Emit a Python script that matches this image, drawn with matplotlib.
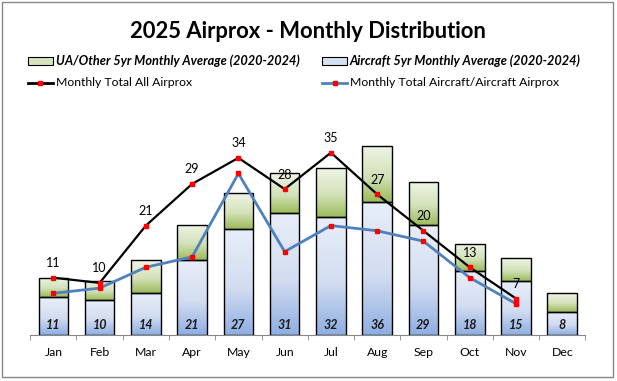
import numpy as np
import matplotlib
matplotlib.use("Agg")
import matplotlib.pyplot as plt
from matplotlib.colors import LinearSegmentedColormap
from matplotlib.patches import Rectangle
from matplotlib.lines import Line2D

# ── data ─────────────────────────────────────────────────────────────────────
MONTHS = ["Jan", "Feb", "Mar", "Apr", "May", "Jun",
          "Jul", "Aug", "Sep", "Oct", "Nov", "Dec"]
AC_AVG = [7.2, 6.7, 8.0, 14.3, 20.3, 23.4, 22.6, 25.5, 21.2, 12.2, 10.3, 4.5]
UA_AVG = [3.7, 3.7, 6.3, 6.8, 6.9, 7.6, 9.4, 10.8, 8.1, 5.3, 4.4, 3.5]
AVG_LABELS = [11, 10, 14, 21, 27, 31, 32, 36, 29, 18, 15, 8]
TOTAL_ALL = [11, 10, 21, 29, 34, 28, 35, 27, 20, 13, 7]
TOTAL_AC = [8, 9, 13, 15, 31, 16, 21, 20, 18, 11, 6]

W, H = 617, 381
FONT = "Lato"

blue_cmap = LinearSegmentedColormap.from_list(
    "blue", [(0.0, "#8eaee2"), (0.45, "#d3ddf1"), (1.0, "#e8eef8")])
green_cmap = LinearSegmentedColormap.from_list(
    "green", [(0.0, "#9bbb59"), (0.45, "#d3e1b8"), (1.0, "#eff4e6")])

plt.rcParams["font.family"] = FONT

fig = plt.figure(figsize=(W / 100, H / 100), dpi=100)


def fx(px):
    return px / W


def fy(py):
    return 1 - py / H


ax = fig.add_axes([fx(30.2), fy(335), (585.4 - 30.2) / W, 208.4 / H])
x = np.arange(len(MONTHS))
bw = 0.64
grad = np.linspace(0, 1, 256).reshape(-1, 1)


def grad_bars(xs, bottoms, heights, cmap):
    bars = ax.bar(xs, heights, bw, bottom=bottoms, facecolor="none",
                  edgecolor="black", linewidth=1.0, zorder=3)
    for b in bars:
        x0, y0 = b.get_x(), b.get_y()
        im = ax.imshow(grad, cmap=cmap, origin="lower", aspect="auto",
                       extent=[x0, x0 + b.get_width(), y0, y0 + b.get_height()],
                       zorder=2)
        im.set_clip_path(b)
    return bars


grad_bars(x, np.zeros(len(x)), AC_AVG, blue_cmap)
grad_bars(x, AC_AVG, UA_AVG, green_cmap)

for xi, lab in zip(x, AVG_LABELS):
    ax.annotate(str(lab), (xi, 0), xytext=(0, 7.5), textcoords="offset points",
                ha="center", va="center", fontsize=9, fontweight="bold",
                fontstyle="italic", color="#1a1a1a", zorder=6)

xl = x[:len(TOTAL_ALL)]
ax.plot(xl, TOTAL_ALL, color="black", linewidth=1.6, zorder=4)
ax.plot(xl, TOTAL_AC, color="#4f81bd", linewidth=2.0, zorder=4)
ax.plot(xl, TOTAL_ALL, "s", color="red", markersize=3.3, zorder=5)
ax.plot(xl, TOTAL_AC, "s", color="red", markersize=3.3, zorder=5)

for xi, v in zip(xl, TOTAL_ALL):
    ax.annotate(str(v), (xi, v), xytext=(0, 10.5), textcoords="offset points",
                ha="center", va="center", fontsize=9, color="black", zorder=6)

ax.set_xlim(-0.5, len(MONTHS) - 0.5)
ax.set_ylim(0, 40)
ax.set_xticks(x)
ax.set_xticklabels(MONTHS, fontsize=8.8)
ax.set_xticks(np.arange(-0.5, len(MONTHS)), minor=True)
ax.tick_params(axis="x", which="major", length=0, pad=9)
ax.tick_params(axis="x", which="minor", length=3.5, color="#868686")
ax.set_yticks([])
for side in ("left", "right", "top"):
    ax.spines[side].set_visible(False)
ax.spines["bottom"].set_color("#868686")
ax.patch.set_alpha(0)

fig.text(fx(308), fy(31), "2025 Airprox - Monthly Distribution",
         ha="center", va="center", fontsize=15.8, fontweight="bold")

# legend
def leg_patch(x0, y0, cmap):
    r = Rectangle((fx(x0), fy(y0 + 3.5)), 25 / W, 7 / H, transform=fig.transFigure,
                  facecolor=cmap(0.55), edgecolor="black", linewidth=0.8)
    fig.add_artist(r)


def leg_line(x0, y0, color):
    fig.add_artist(Line2D([fx(x0), fx(x0 + 25)], [fy(y0), fy(y0)],
                          transform=fig.transFigure, color=color, linewidth=2))
    fig.add_artist(Line2D([fx(x0 + 12.5)], [fy(y0)], transform=fig.transFigure,
                          marker="s", color="red", markersize=3.3))


leg_patch(28, 61, green_cmap)
leg_patch(322, 61, blue_cmap)
leg_line(28, 83, "black")
leg_line(322, 83, "#4f81bd")
fig.text(fx(56.5), fy(61), "UA/Other 5yr Monthly Average (2020-2024)", va="center",
         fontsize=9.2, fontweight="bold", fontstyle="italic")
fig.text(fx(350), fy(61), "Aircraft 5yr Monthly Average (2020-2024)", va="center",
         fontsize=9.2, fontweight="bold", fontstyle="italic")
fig.text(fx(56.5), fy(83), "Monthly Total All Airprox", va="center", fontsize=8.8)
fig.text(fx(350), fy(83), "Monthly Total Aircraft/Aircraft Airprox", va="center",
         fontsize=8.8)

fig.add_artist(Rectangle((fx(2), fy(377)), 611 / W, 375 / H, transform=fig.transFigure,
                         facecolor="none", edgecolor="#878787", linewidth=1.0))

fig.savefig("out.png", dpi=100)
